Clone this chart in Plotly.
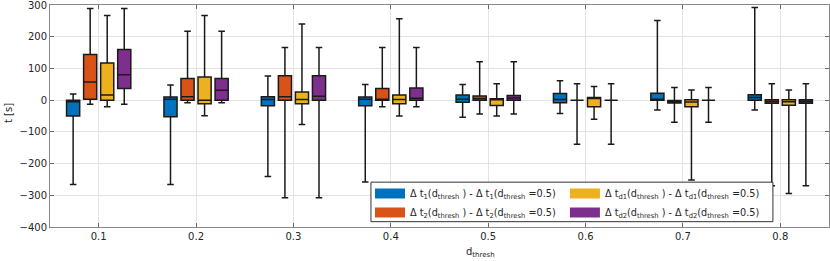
import plotly.graph_objects as go

d_thresh = [0.1, 0.2, 0.3, 0.4, 0.5, 0.6, 0.7, 0.8]
tick_labels = ["0.1", "0.2", "0.3", "0.4", "0.5", "0.6", "0.7", "0.8"]
y_ticks = [-400, -300, -200, -100, 0, 100, 200, 300]

# Delta t1
t1_lo  = [-266, -266, -241, -258, -54, -42, -31, -31]
t1_q1  = [-50, -52, -18, -18, -7, -8, 0, 0]
t1_med = [-5, 3, 2, 3, 3, 2, 3, 8]
t1_q3  = [0, 10, 11, 10, 16, 21, 22, 17]
t1_hi  = [19, 48, 76, 49, 49, 61, 251, 292]

# Delta t2
t2_lo  = [-13, -8, -308, -21, -44, -139, -70, -270]
t2_q1  = [3, 0, 0, 0, 0, 0, -9, -10]
t2_med = [57, 11, 11, 2, 5, 0, -5, -4]
t2_q3  = [144, 68, 77, 37, 13, 0, -1, 1]
t2_hi  = [289, 217, 166, 166, 121, 52, 40, 52]

# Delta td1
td1_lo  = [-21, -49, -77, -50, -50, -60, -252, -294]
td1_q1  = [0, -11, -11, -11, -17, -21, -21, -16]
td1_med = [16, 0, 2, 2, 2, 5, -6, -5]
td1_q3  = [117, 73, 26, 16, 4, 8, 1, 1]
td1_hi  = [267, 267, 240, 257, 52, 43, 32, 32]

# Delta td2
td2_lo  = [-13, -8, -308, -21, -44, -139, -70, -270]
td2_q1  = [37, 0, 0, 0, 0, 0, 0, -10]
td2_med = [80, 31, 12, 6, 7, 0, 0, -4]
td2_q3  = [160, 68, 77, 38, 15, 0, 0, 1]
td2_hi  = [289, 217, 166, 166, 121, 52, 40, 52]

names = [
    "Δ t<sub>1</sub>(d<sub>thresh</sub> ) - Δ t<sub>1</sub>(d<sub>thresh</sub> =0.5)",
    "Δ t<sub>2</sub>(d<sub>thresh</sub> ) - Δ t<sub>2</sub>(d<sub>thresh</sub> =0.5)",
    "Δ t<sub>d1</sub>(d<sub>thresh</sub> ) - Δ t<sub>d1</sub>(d<sub>thresh</sub> =0.5)",
    "Δ t<sub>d2</sub>(d<sub>thresh</sub> ) - Δ t<sub>d2</sub>(d<sub>thresh</sub> =0.5)",
]
colors = ["#0072BD", "#D95319", "#EDB120", "#7E2F8E"]
legend_ids = ["legend", "legend", "legend2", "legend2"]
series = [
    (t1_lo, t1_q1, t1_med, t1_q3, t1_hi),
    (t2_lo, t2_q1, t2_med, t2_q3, t2_hi),
    (td1_lo, td1_q1, td1_med, td1_q3, td1_hi),
    (td2_lo, td2_q1, td2_med, td2_q3, td2_hi),
]

fig = go.Figure()
for (lo, q1, med, q3, hi), name, col in zip(series, names, colors):
    fig.add_trace(go.Box(
        x=d_thresh, q1=q1, median=med, q3=q3, lowerfence=lo, upperfence=hi,
        name=name, fillcolor=col, line=dict(color="#1a1a1a", width=1.5),
        whiskerwidth=0.5, boxpoints=False, showlegend=False, hoverinfo="skip",
    ))
# legend swatches (empty traces, legend only)
for i, (name, col, lg) in enumerate(zip(names, colors, legend_ids)):
    fig.add_trace(go.Scatter(
        x=[None], y=[None], mode="lines", name=name,
        line=dict(color=col, width=12), legend=lg, legendgroup="g%d" % i,
        showlegend=True, hoverinfo="skip",
    ))

font = "DejaVu Sans, Arial, sans-serif"
leg_common = dict(
    orientation="v", yanchor="bottom", xanchor="left",
    bgcolor="rgba(0,0,0,0)", borderwidth=0, itemwidth=30,
    tracegroupgap=0, font=dict(family=font, size=9.7, color="#262626"),
)
fig.update_layout(
    width=830, height=261,
    margin=dict(l=50, r=1, t=5, b=34, autoexpand=False),
    paper_bgcolor="white", plot_bgcolor="white",
    boxmode="group", boxgap=0.3, boxgroupgap=0.23,
    font=dict(family=font, size=10, color="#262626"),
    showlegend=True,
    legend=dict(x=0.4108, y=0.0, **leg_common),
    legend2=dict(x=0.661, y=0.0, **leg_common),
    shapes=[dict(
        type="rect", xref="paper", yref="paper", x0=0.412, x1=0.928, y0=0.024, y1=0.202,
        line=dict(color="#333333", width=1), fillcolor="white", layer="above",
    )],
    annotations=[
        dict(text="d<sub>thresh</sub>", xref="paper", yref="paper", x=0.552, y=-0.115,
             xanchor="center", yanchor="middle", showarrow=False,
             font=dict(family=font, size=10, color="#262626")),
        dict(text="t [s]", xref="paper", yref="paper", x=-0.054, y=0.513,
             xanchor="center", yanchor="middle", showarrow=False, textangle=-90,
             font=dict(family=font, size=10, color="#262626")),
    ],
)
fig.update_xaxes(
    range=[0.05, 0.85], tickmode="array", tickvals=d_thresh, ticktext=tick_labels,
    showgrid=True, gridcolor="#e3e3e3", gridwidth=1, zeroline=False,
    showline=True, linecolor="#888888", linewidth=1, mirror="ticks",
    ticks="inside", ticklen=4, tickcolor="#666666", automargin=False,
    ticklabeloverflow="allow",
)
fig.update_yaxes(
    range=[-400, 300], tickmode="array", tickvals=y_ticks,
    showgrid=True, gridcolor="#e3e3e3", gridwidth=1, zeroline=False,
    showline=True, linecolor="#888888", linewidth=1, mirror="ticks",
    ticks="inside", ticklen=4, tickcolor="#666666", automargin=False,
    ticklabeloverflow="allow",
)
fig.write_html("out.html", post_script="document.body.style.margin='0';",
               config={"displayModeBar": False})
